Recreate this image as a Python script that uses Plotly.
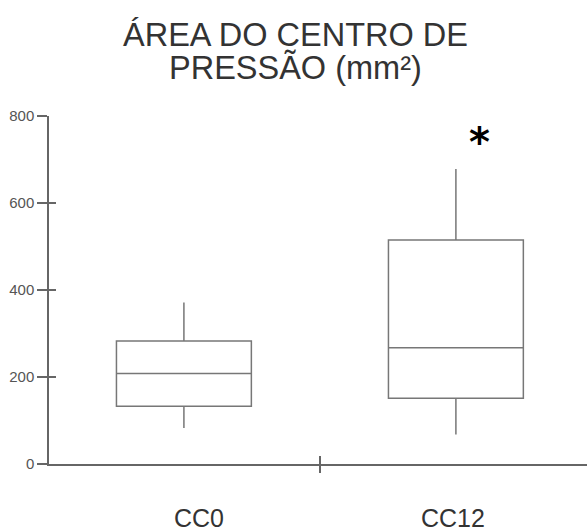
import plotly.graph_objects as go

# Data
categories = ["CC0", "CC12"]
lower_whisker = [83, 68]
q1_vals = [133, 151]
median_vals = [208, 267]
q3_vals = [283, 515]
upper_whisker = [371, 678]
y_ticks = [0, 200, 400, 600, 800]
sig_marker_value = 763   # asterisk height (mm²)
title_lines = ["ÁREA DO CENTRO DE", "PRESSÃO (mm²)"]

xpos = list(range(len(categories)))

fig = go.Figure()
fig.add_trace(go.Box(
    x=xpos,
    q1=q1_vals, median=median_vals, q3=q3_vals,
    lowerfence=lower_whisker, upperfence=upper_whisker,
    width=0.496,
    whiskerwidth=0,
    fillcolor="rgba(255,255,255,0)",
    line=dict(color="#777777", width=1.5),
    marker=dict(opacity=0),
    boxpoints=False,
    showlegend=False,
    hoverinfo="skip",
))
# invisible trace for overlay axes
fig.add_trace(go.Scatter(x=[0.5], y=[0], xaxis="x2", yaxis="y2", mode="markers",
                         marker=dict(opacity=0), showlegend=False, hoverinfo="skip"))

xr = [-0.496, 1.482]
fig.update_layout(
    width=587, height=532,
    margin=dict(l=49, r=0, t=116, b=68),
    paper_bgcolor="white", plot_bgcolor="white",
    font=dict(family="Liberation Sans, Arial, sans-serif"),
    xaxis=dict(range=xr, showgrid=False, zeroline=False, showline=True,
               linecolor="#666666", linewidth=1.5,
               tickvals=[0.5], ticktext=[""], ticks="outside", ticklen=7,
               tickcolor="#666666", tickwidth=1.5, fixedrange=True),
    yaxis=dict(range=[0, 800], tickvals=y_ticks, showgrid=False, zeroline=False,
               showline=True, linecolor="#666666", linewidth=1.5,
               ticks="outside", ticklen=10, tickcolor="#666666", tickwidth=1.5,
               tickfont=dict(size=15, color="#555555")),
    xaxis2=dict(range=xr, overlaying="x", showgrid=False, zeroline=False, showline=False,
                tickvals=[0.5], ticktext=[""], ticks="inside", ticklen=8,
                tickcolor="#666666", tickwidth=1.5),
    yaxis2=dict(range=[0, 800], overlaying="y", showgrid=False, zeroline=False,
                showline=False, tickvals=y_ticks, ticktext=[""] * len(y_ticks),
                ticks="inside", ticklen=7, tickcolor="#666666", tickwidth=1.5),
)

# title lines (two annotations for exact line spacing)
plot_left, plot_w = 49, 538
plot_top, plot_h = 116, 348
title_cx = (295.5 - plot_left) / plot_w
for line, py in zip(title_lines, [35, 68]):
    fig.add_annotation(x=title_cx, y=1 + (plot_top - py) / plot_h, xref="paper", yref="paper",
                       text=line, showarrow=False, xanchor="center", yanchor="middle",
                       font=dict(size=32.5, color="#333333"))

label_shift = [15, -3]
for i, c in enumerate(categories):
    fig.add_annotation(x=xpos[i], y=0, xref="x", yref="y", text=c, showarrow=False,
                       yanchor="top", yshift=-38, xshift=label_shift[i],
                       font=dict(size=25, color="#333333"))

fig.add_annotation(x=xpos[1] + 0.088, y=sig_marker_value, xref="x", yref="y", text="<b>*</b>",
                   showarrow=False, yanchor="middle", yshift=-10,
                   font=dict(size=40, color="black", family="DejaVu Sans"))

fig.write_html("out.html")
